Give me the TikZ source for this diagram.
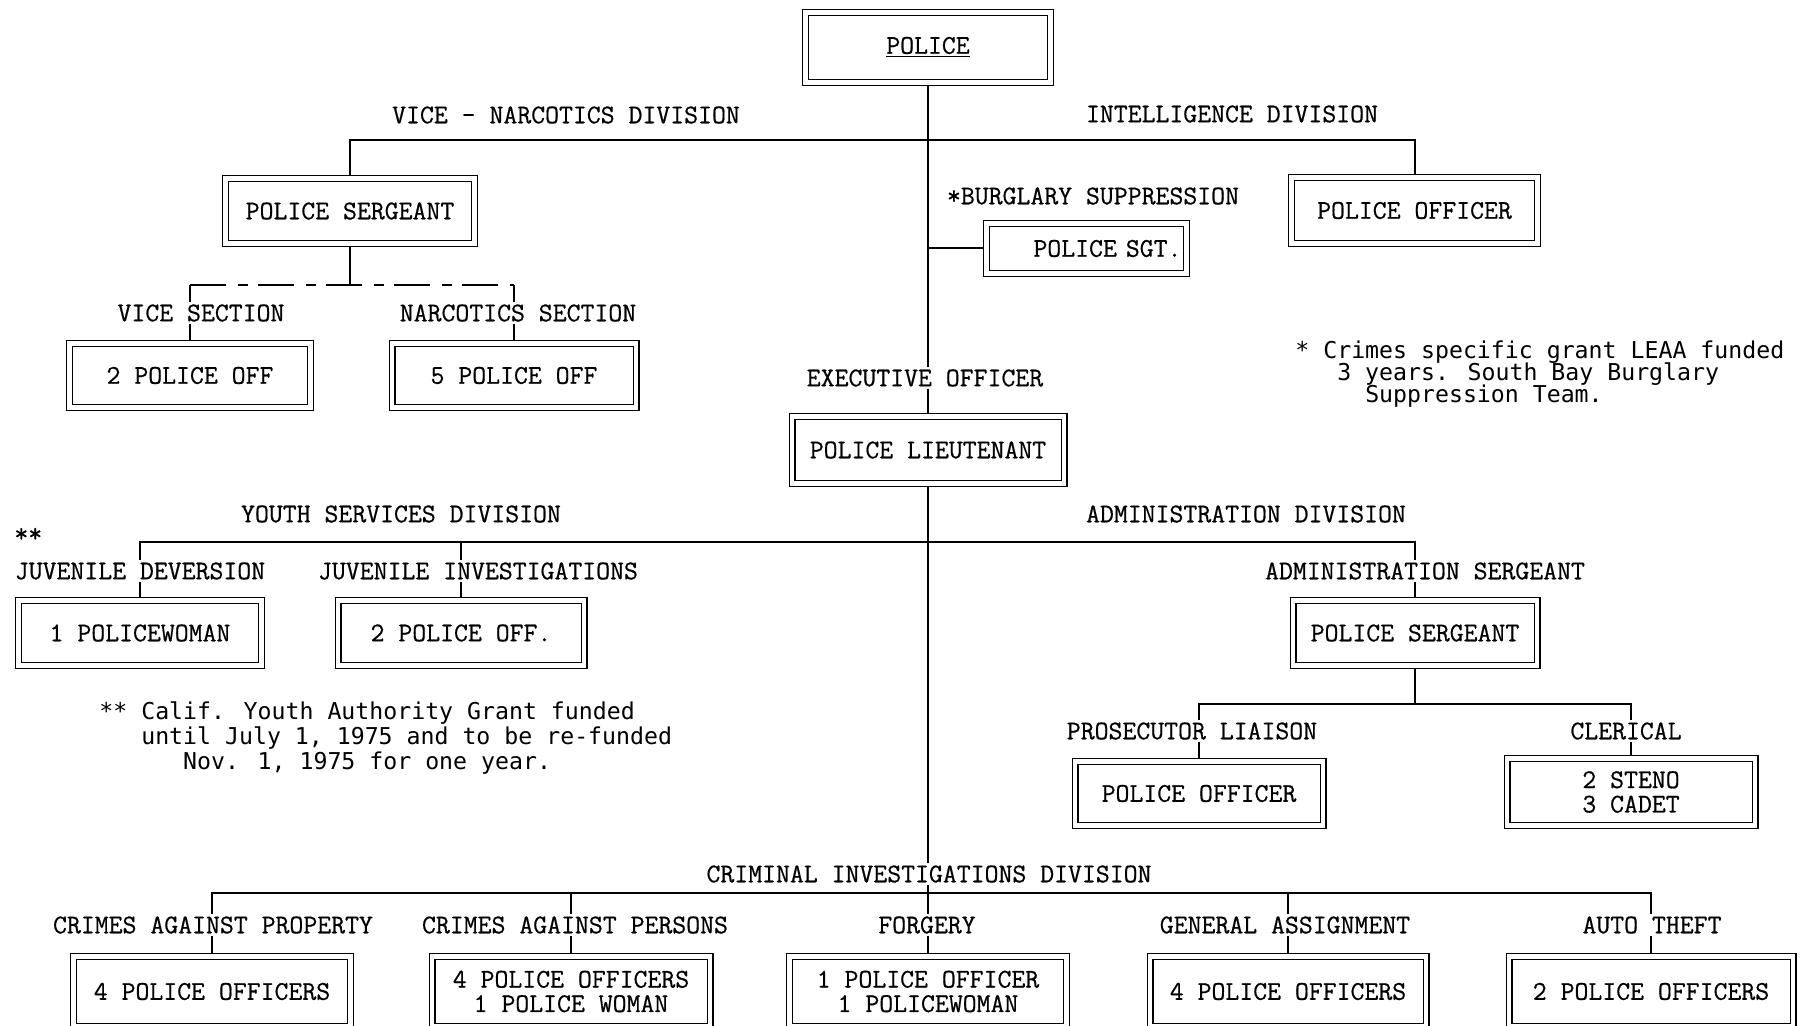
\documentclass[tikz,border=0pt]{standalone}
\usepackage{fontspec}
\usetikzlibrary{backgrounds}
\newfontfamily\typefont{lmmono12-regular.otf}[FakeBold=0.6]
\newfontfamily\notefont{DejaVu Sans Mono}
\newcommand\boxfont{\typefont\fontsize{13.5}{12.2}\selectfont\lineskiplimit=-20pt}
\newcommand\noteafont{\notefont\fontsize{11.6}{11}\selectfont\lineskiplimit=-20pt}
\newcommand\notebfont{\notefont\fontsize{11.6}{12.5}\selectfont\lineskiplimit=-20pt}

\begin{document}
\begin{tikzpicture}[x=0.5pt,y=-0.5pt,
  ob/.style={draw, double, double distance=2.4pt, line width=0.55pt,
    inner sep=0pt, font=\boxfont, align=center},
  lbl/.style={fill=white, inner sep=1pt, font=\boxfont},
  conn/.style={line width=1pt},
  faint/.style={line width=0.7pt, dash pattern=on 18pt off 6pt on 5pt off 5pt},
  notea/.style={anchor=west, inner sep=0pt, align=left, font=\noteafont},
  noteb/.style={anchor=west, inner sep=0pt, align=left, font=\notebfont}]
\useasboundingbox (0,0) rectangle (1800,1026);
\clip (0,0) rectangle (1800,1026);

% ---- boxes ----
\node[ob, minimum width=122.5pt, minimum height=35pt] (police) at (928,47.5) {\underline{POLICE}};
\node[ob, minimum width=124.5pt, minimum height=32.5pt] (vsgt) at (350,211) {POLICE SERGEANT};
\node[ob, minimum width=120.5pt, minimum height=32pt] (vice) at (190,375.5) {2 POLICE OFF};
\node[ob, minimum width=122pt, minimum height=32pt] (narc) at (514,375.5) {5 POLICE OFF};
\node[ob, minimum width=123pt, minimum height=33pt] (intel) at (1414.5,210.5) {POLICE OFFICER};
\node[ob, minimum width=100pt, minimum height=25pt, text width=95pt, align=right] (bsgt) at (1086.5,248.5) {POLICE SGT.};
\node[ob, minimum width=136pt, minimum height=33.5pt] (lt) at (928,450) {POLICE LIEUTENANT};
\node[ob, minimum width=121.5pt, minimum height=32.5pt] (jdiv) at (140,633) {1 POLICEWOMAN};
\node[ob, minimum width=123pt, minimum height=32.5pt] (jinv) at (461,633) {2 POLICE OFF.};
\node[ob, minimum width=122pt, minimum height=32.5pt] (asgt) at (1415,633) {POLICE SERGEANT};
\node[ob, minimum width=124pt, minimum height=32pt] (pros) at (1199,793.5) {POLICE OFFICER};
\node[ob, minimum width=124pt, minimum height=33.5pt] (cler) at (1631,792) {2 STENO\\3 CADET};
\node[ob, minimum width=138.5pt, minimum height=35pt] (cap) at (212,991.5) {4 POLICE OFFICERS};
\node[ob, minimum width=139pt, minimum height=35pt] (caps) at (571,991.5) {4 POLICE OFFICERS\\1 POLICE WOMAN};
\node[ob, minimum width=138.5pt, minimum height=35pt] (forg) at (928,991.5) {1 POLICE OFFICER\\1 POLICEWOMAN};
\node[ob, minimum width=138pt, minimum height=35pt] (ga) at (1288,991.5) {4 POLICE OFFICERS};
\node[ob, minimum width=142pt, minimum height=35pt] (auto) at (1651,991.5) {2 POLICE OFFICERS};

% ---- titles over the connectors ----
\node[lbl] (vndiv) at (566,115) {VICE - NARCOTICS DIVISION};
\node[lbl] (intdiv) at (1232,114) {INTELLIGENCE DIVISION};
\node[lbl] (burg) at (1093,196) {*BURGLARY SUPPRESSION};
\node[lbl] (vicesec) at (201,313) {VICE SECTION};
\node[lbl] (narcsec) at (518,313) {NARCOTICS SECTION};
\node[lbl] (exec) at (925,378) {EXECUTIVE OFFICER};
\node[lbl] (ysdiv) at (401,514) {YOUTH SERVICES DIVISION};
\node[lbl] (addiv) at (1246,514) {ADMINISTRATION DIVISION};
\node[lbl, anchor=west] (dstar) at (12,535) {**};
\node[lbl] (jdlbl) at (140,571) {JUVENILE DEVERSION};
\node[lbl] (jilbl) at (478,571) {JUVENILE INVESTIGATIONS};
\node[lbl] (aslbl) at (1425,571) {ADMINISTRATION SERGEANT};
\node[lbl] (prlbl) at (1192,731) {PROSECUTOR LIAISON};
\node[lbl] (cllbl) at (1626,731) {CLERICAL};
\node[lbl] (cidlbl) at (929,874) {CRIMINAL INVESTIGATIONS DIVISION};
\node[lbl] (caplbl) at (213,925) {CRIMES AGAINST PROPERTY};
\node[lbl] (capslbl) at (575,925) {CRIMES AGAINST PERSONS};
\node[lbl] (forlbl) at (927,925) {FORGERY};
\node[lbl] (galbl) at (1285,925) {GENERAL ASSIGNMENT};
\node[lbl] (atlbl) at (1652,925) {AUTO THEFT};

% ---- footnotes ----
\node[notea] (note1) at (1295,374) {* Crimes specific grant LEAA funded\\\phantom{000}3 years. South Bay Burglary\\\phantom{00000}Suppression Team.};
\node[noteb] (note2) at (99,738) {** Calif. Youth Authority Grant funded\\\phantom{000}until July 1, 1975 and to be re-funded\\\phantom{000000}Nov. 1, 1975 for one year.};

% ---- connectors ----
\coordinate (topbar) at (928,140);
\coordinate (vbar) at (350,285);
\coordinate (ybar) at (928,542);
\coordinate (abar) at (1415,704);
\coordinate (cbar) at (928,893);
\begin{pgfonlayer}{background}
  \draw[conn] (police.south) -- (lt.north);
  \draw[conn] (lt.south) -- (forg.north);
  \draw[conn] (vsgt.north) -- (vsgt.north |- topbar) -- (intel.north |- topbar) -- (intel.north);
  \draw[conn] (bsgt.west) -- (bsgt.west -| police.south);
  \draw[conn] (vsgt.south) -- (vsgt.south |- vbar);
  \draw[faint] (vice.north |- vbar) -- (narc.north |- vbar);
  \draw[conn] (vice.north) -- (vice.north |- vbar);
  \draw[conn] (narc.north) -- (narc.north |- vbar);
  \draw[conn] (jdiv.north) -- (jdiv.north |- ybar) -- (asgt.north |- ybar) -- (asgt.north);
  \draw[conn] (jinv.north) -- (jinv.north |- ybar);
  \draw[conn] (asgt.south) -- (asgt.south |- abar);
  \draw[conn] (pros.north) -- (pros.north |- abar) -- (cler.north |- abar) -- (cler.north);
  \draw[conn] (cap.north) -- (cap.north |- cbar) -- (auto.north |- cbar) -- (auto.north);
  \draw[conn] (caps.north) -- (caps.north |- cbar);
  \draw[conn] (ga.north) -- (ga.north |- cbar);
\end{pgfonlayer}
\end{tikzpicture}
\end{document}
